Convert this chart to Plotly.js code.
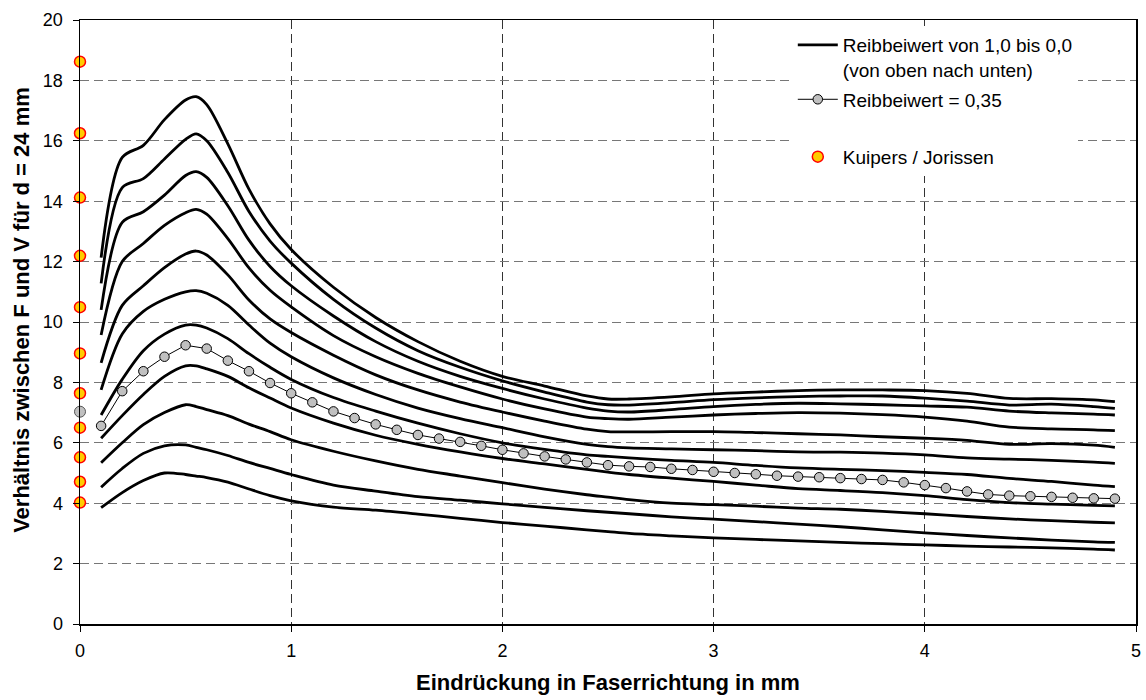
<!DOCTYPE html>
<html>
<head>
<meta charset="utf-8">
<script src="https://cdn.plot.ly/plotly-3.0.1.min.js"></script>
<style>html,body{margin:0;padding:0;background:#fff;}#chart{width:1146px;height:700px;}</style>
</head>
<body>
<div id="chart"></div>
<script>
// x positions (mm) of the curve samples
const xCurve = [0.1,0.2,0.3,0.4,0.5,0.55,0.6,0.7,0.8,0.9,1.0,1.2,1.4,1.6,1.8,2.0,2.2,2.4,2.5,2.6,2.8,3.0,3.2,3.4,3.6,3.8,4.0,4.2,4.4,4.6,4.8,4.9];
// curves for friction coefficient 1.0 ... 0.0 (top to bottom)
const mu10 = [12.13,15.45,15.85,16.7,17.35,17.46,17.2,15.9,14.4,13.25,12.4,11.15,10.15,9.35,8.7,8.2,7.88,7.55,7.45,7.45,7.52,7.62,7.68,7.73,7.75,7.75,7.73,7.64,7.47,7.46,7.42,7.36];
const mu09 = [11.28,14.45,14.75,15.4,16.05,16.23,16.0,14.95,13.66,12.68,11.95,10.75,9.8,9.05,8.5,8.05,7.68,7.35,7.26,7.25,7.33,7.43,7.49,7.53,7.55,7.55,7.48,7.38,7.25,7.28,7.2,7.14];
const mu08 = [10.4,13.3,13.65,14.2,14.85,14.98,14.79,13.85,12.71,11.84,11.2,10.2,9.35,8.7,8.2,7.8,7.45,7.15,7.05,7.02,7.1,7.2,7.27,7.31,7.29,7.26,7.22,7.18,7.05,6.99,6.95,6.92];
const mu07 = [9.57,12.0,12.6,13.2,13.62,13.73,13.57,12.76,11.79,11.05,10.5,9.55,8.85,8.3,7.85,7.45,7.12,6.85,6.8,6.78,6.85,6.92,6.97,7.0,6.98,6.93,6.85,6.72,6.52,6.46,6.43,6.40];
const mu06 = [8.65,10.55,11.2,11.8,12.25,12.35,12.22,11.56,10.73,10.1,9.65,8.9,8.25,7.75,7.35,7.02,6.72,6.45,6.37,6.36,6.37,6.37,6.34,6.3,6.26,6.2,6.15,6.08,5.95,5.97,5.92,5.85];
const mu05 = [7.75,9.6,10.35,10.75,11.0,11.04,10.95,10.55,9.9,9.3,8.85,8.15,7.6,7.15,6.8,6.5,6.2,5.95,5.87,5.83,5.8,5.77,5.74,5.7,5.69,5.66,5.6,5.5,5.46,5.42,5.36,5.32];
const mu04 = [6.92,8.1,9.05,9.6,9.9,9.9,9.8,9.45,8.95,8.5,8.1,7.5,7.05,6.65,6.3,6.0,5.78,5.6,5.55,5.5,5.42,5.35,5.25,5.17,5.12,5.08,5.02,4.95,4.82,4.72,4.6,4.55];
const mu03 = [6.15,6.9,7.6,8.2,8.55,8.55,8.45,8.2,7.82,7.48,7.15,6.65,6.25,5.95,5.7,5.48,5.3,5.12,5.03,4.95,4.83,4.72,4.6,4.48,4.42,4.35,4.25,4.12,4.02,3.97,3.93,3.91];
const mu02 = [5.34,6.0,6.6,7.0,7.26,7.2,7.1,6.9,6.62,6.37,6.1,5.72,5.4,5.12,4.9,4.68,4.47,4.28,4.2,4.12,4.0,3.95,3.9,3.84,3.8,3.73,3.65,3.56,3.48,3.42,3.37,3.35];
const mu01 = [4.53,5.15,5.65,5.9,5.93,5.85,5.77,5.58,5.35,5.15,4.95,4.6,4.4,4.22,4.1,3.98,3.86,3.75,3.7,3.65,3.55,3.47,3.39,3.31,3.22,3.12,3.02,2.93,2.85,2.78,2.72,2.7];
const mu00 = [3.85,4.35,4.75,5.0,4.95,4.9,4.85,4.7,4.47,4.25,4.08,3.87,3.77,3.64,3.5,3.36,3.24,3.12,3.06,3.0,2.92,2.85,2.8,2.75,2.7,2.66,2.62,2.58,2.55,2.52,2.48,2.45];

// curve for friction coefficient 0.35 (with markers)
const x035 = [0.1,0.2,0.3,0.4,0.5,0.6,0.7,0.8,0.9,1.0,1.1,1.2,1.3,1.4,1.5,1.6,1.7,1.8,1.9,2.0,2.1,2.2,2.3,2.4,2.5,2.6,2.7,2.8,2.9,3.0,3.1,3.2,3.3,3.4,3.5,3.6,3.7,3.8,3.9,4.0,4.1,4.2,4.3,4.4,4.5,4.6,4.7,4.8,4.9];
const y035 = [6.56,7.71,8.37,8.85,9.23,9.12,8.72,8.37,7.98,7.64,7.34,7.04,6.82,6.61,6.43,6.26,6.14,6.03,5.90,5.77,5.65,5.55,5.45,5.35,5.26,5.22,5.20,5.14,5.10,5.04,5.00,4.96,4.91,4.88,4.86,4.83,4.80,4.77,4.69,4.60,4.50,4.39,4.29,4.25,4.23,4.21,4.18,4.16,4.15];

// Kuipers / Jorissen values at x = 0
const xKJ = [0,0,0,0,0,0,0,0,0,0,0];
const yKJ = [18.62,16.25,14.12,12.19,10.49,8.96,7.64,6.50,5.52,4.71,4.02];
const xKJ035 = [0];
const yKJ035 = [7.03];

const curves = [mu10,mu09,mu08,mu07,mu06,mu05,mu04,mu03,mu02,mu01,mu00];
const legendCurves = 'Reibbeiwert von 1,0 bis 0,0<br>(von oben nach unten)';
const legend035 = 'Reibbeiwert = 0,35';
const legendKJ = 'Kuipers / Jorissen';
const xTitle = 'Eindrückung in Faserrichtung in mm';
const yTitle = 'Verhältnis zwischen F und V für d = 24 mm';

const traces = [];
curves.forEach((yy, i) => {
  traces.push({
    x: xCurve, y: yy, type: 'scatter', mode: 'lines',
    line: {color: '#000', width: 2.8, shape: 'spline', smoothing: 0.9},
    name: legendCurves, showlegend: i === 0, legendgroup: 'a', hoverinfo: 'skip'
  });
});
traces.push({
  x: x035, y: y035, type: 'scatter', mode: 'lines+markers',
  line: {color: '#000', width: 1},
  marker: {color: '#c0c0c0', size: 9.5, line: {color: '#000', width: 1}},
  name: legend035, legendgroup: 'b'
});
traces.push({
  x: xKJ035, y: yKJ035, type: 'scatter', mode: 'markers', cliponaxis: false,
  marker: {color: '#c0c0c0', size: 11, line: {color: '#555', width: 1}},
  showlegend: false
});
// empty legend row (spacer) before the Kuipers / Jorissen entry
traces.push({
  x: [null], y: [null], type: 'scatter', mode: 'markers',
  marker: {color: 'rgba(0,0,0,0)', size: 1, line: {width: 0, color: 'rgba(0,0,0,0)'}},
  name: ' ', legendgroup: 'c', showlegend: true, hoverinfo: 'skip'
});
traces.push({
  x: xKJ, y: yKJ, type: 'scatter', mode: 'markers', cliponaxis: false,
  marker: {color: '#ffcc00', size: 11, line: {color: '#ff0000', width: 1.5}},
  name: legendKJ, legendgroup: 'c'
});

const fam = 'Liberation Sans, Arial, sans-serif';
const layout = {
  width: 1146, height: 700,
  margin: {l: 80, r: 10, t: 20, b: 76},
  paper_bgcolor: '#fff', plot_bgcolor: '#fff',
  font: {family: fam, size: 18, color: '#000'},
  showlegend: true,
  legend: {x: 0.675, y: 0.99, xanchor: 'left', yanchor: 'top', bgcolor: '#fff',
           font: {family: fam, size: 19, color: '#000'}, tracegroupgap: 2, itemwidth: 40, valign: 'top'},
  xaxis: {
    range: [0, 5], dtick: 1, tick0: 0,
    showgrid: true, gridcolor: '#333', griddash: '9px,5px', gridwidth: 1,
    showline: true, linecolor: '#000', linewidth: 1.5, mirror: true,
    ticks: 'outside', ticklen: 6, tickcolor: '#000', zeroline: false,
    ticklabelstandoff: 4,
    tickfont: {family: fam, size: 18},
    title: {text: '<b>' + xTitle + '</b>', font: {family: fam, size: 22}, standoff: 14}
  },
  yaxis: {
    range: [0, 20], dtick: 2, tick0: 0,
    showgrid: true, gridcolor: '#777', griddash: '9px,5px', gridwidth: 1,
    showline: true, linecolor: '#000', linewidth: 1.5, mirror: true,
    ticks: 'outside', ticklen: 6, tickcolor: '#000', zeroline: false,
    ticklabelstandoff: 6,
    tickfont: {family: fam, size: 18}
  },
  annotations: [{
    text: '<b>' + yTitle + '</b>', textangle: -90, showarrow: false,
    xref: 'paper', yref: 'paper', x: -0.055, y: 0.52, xanchor: 'center', yanchor: 'middle',
    font: {family: fam, size: 22, color: '#000'}
  }]
};
Plotly.newPlot('chart', traces, layout, {displayModeBar: false, staticPlot: true});
</script>
</body>
</html>
